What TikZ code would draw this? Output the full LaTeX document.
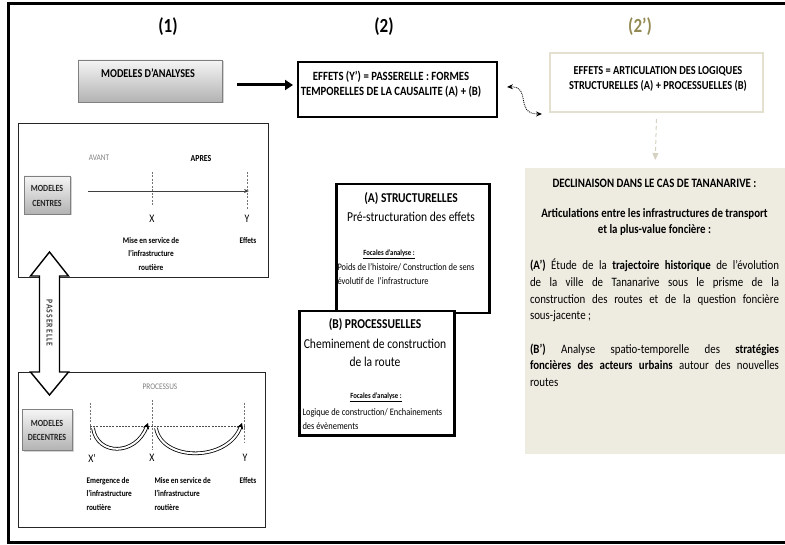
\documentclass[tikz,border=0pt]{standalone}
\usepackage{fontspec}
\setmainfont{Carlito}[FakeStretch=0.85]
\usetikzlibrary{arrows.meta,shadows}
\definecolor{olivehd}{HTML}{948A54}
\definecolor{beigefill}{HTML}{EEECE1}
\definecolor{beigeline}{HTML}{E4E0D0}
\definecolor{beigearrow}{HTML}{D6D2C2}
\tikzset{
  graybox/.style={draw=black!50, line width=0.6pt, top color=black!4, bottom color=black!30,
    drop shadow={opacity=0.35, shadow xshift=1.5pt, shadow yshift=-1.5pt}},
  thickbox/.style={draw=black, line width=2.5pt, fill=white},
  thinframe/.style={draw=black!85, line width=0.8pt, fill=white},
  hdr/.style={font=\fontsize{20}{22}\selectfont\bfseries},
  boxtxt/.style={font=\fontsize{12.6}{15.5}\selectfont\bfseries, align=center},
  small/.style={font=\fontsize{8.6}{13.5}\selectfont\bfseries},
  graysmall/.style={font=\fontsize{8.6}{10}\selectfont, text=black!50},
  xy/.style={font=\fontsize{11.5}{13}\selectfont},
  vdash/.style={dashed, dash pattern=on 2pt off 1.5pt, draw=black!55, line width=0.6pt},
  hollowarc/.style={draw=black, double=white, double distance=2pt, line width=0.8pt,
    -{Stealth[length=6pt,width=6.5pt]}},
  titleA/.style={font=\fontsize{13.5}{15}\selectfont\bfseries},
  subA/.style={font=\fontsize{13.6}{17.5}\selectfont, align=center},
  focal/.style={font=\fontsize{7.9}{9}\selectfont\bfseries},
  detail/.style={font=\fontsize{9.9}{14}\selectfont, align=left},
}
\begin{document}
\begin{tikzpicture}[x=1pt,y=-1pt]
\useasboundingbox (0,0) rectangle (785,545);
% outer frame
\draw[line width=3pt] (8,4) rectangle (800,542);

% headers
\node[hdr] (h1) at (168,27) {(1)};
\node[hdr] (h2) at (384,27) {(2)};
\node[hdr, text=olivehd] (h2p) at (640,27) {(2’)};

% models d'analyses
\node[graybox, minimum width=144pt, minimum height=42pt] (ma) at (150,81) {};
\node[font=\fontsize{12}{14}\selectfont\bfseries] (mat) at (148,73) {MODELES D’ANALYSES};
\coordinate (a1) at (237,85);
\coordinate (a2) at (293,85);
\draw[line width=3pt, -{Triangle[length=8pt,width=10pt]}] (a1) -- (a2);

% box 2
\node[thickbox, minimum width=199pt, minimum height=55pt] (b2) at (397.5,89.5) {};
\node[boxtxt] (b2t) at (391,84.5) {EFFETS (Y’) = PASSERELLE : FORMES\\TEMPORELLES DE LA CAUSALITE (A) + (B)};

% box 2'
\node[draw=beigeline, line width=2pt, minimum width=213pt, minimum height=59pt] (b2p) at (656.5,82.5) {};
\node[boxtxt, font=\fontsize{12.2}{15.5}\selectfont\bfseries] (b2pt) at (658,79) {EFFETS = ARTICULATION DES LOGIQUES\\STRUCTURELLES (A) + PROCESSUELLES (B)};

% curly double arrow
\coordinate (c1) at (507,87);
\coordinate (c2) at (542,114);
\draw[densely dotted, line width=0.9pt, {Stealth[length=6pt,width=5pt]}-{Stealth[length=6pt,width=5pt]}]
  (c1) .. controls (532,86) and (514,114) .. (c2);

% beige box
\node[fill=beigefill, minimum width=260pt, minimum height=286pt, anchor=north west, inner sep=0pt] (decl) at (525,168) {};
\draw[beigearrow, line width=1pt, dash pattern=on 4pt off 3pt, -{Triangle[length=7pt,width=6pt]}]
  ([yshift=-6pt]b2p.south) -- ([yshift=8pt]decl.north);
\node[anchor=north, text width=249pt, inner sep=0pt, align=justify, font=\fontsize{12.8}{16.7}\selectfont] (declt) at (654.5,179) {%
  \hyphenpenalty=10000
  {\centering\bfseries DECLINAISON DANS LE CAS DE TANANARIVE :\par\vspace{13pt}
  Articulations entre les infrastructures de transport\\et la plus-value foncière :\par}
  \vspace{19pt}
  \textbf{(A’)} Étude de la \textbf{trajectoire historique} de l’évolution\linebreak
  de la ville de Tananarive sous le prisme de la\linebreak
  construction des routes et de la question foncière\linebreak
  sous-jacente ;\par\vspace{16.7pt}
  \textbf{(B’)} Analyse spatio-temporelle des \textbf{stratégies}\linebreak
  \textbf{foncières des acteurs urbains} autour des nouvelles\linebreak
  routes\par};

% ---------- left top box: modeles centres
\node[thinframe, minimum width=250pt, minimum height=154pt, anchor=north west, inner sep=0pt] (lc) at (18,123) {};
\node[graybox, minimum width=46pt, minimum height=38pt] (mc) at (47,195) {};
\node[font=\fontsize{9.4}{15}\selectfont\bfseries, align=center, text=black!85] (mct) at (47,195.5) {MODELES\\CENTRES};
\node[graysmall] (avant) at (99,158) {AVANT};
\node[font=\fontsize{9.2}{10}\selectfont\bfseries] (apres) at (201,159) {APRES};
\coordinate (t0) at (88,191);
\coordinate (t1) at (249,191);
\draw[line width=0.9pt, draw=black!75, -{Stealth[length=5pt,width=4pt]}] (t0) -- (t1);
\coordinate (vx0) at (152,172); \coordinate (vx1) at (152,205);
\coordinate (vy0) at (247,172); \coordinate (vy1) at (247,210);
\draw[vdash] (vx0) -- (vx1);
\draw[vdash] (vy0) -- (vy1);
\node[xy] (xc) at (152,219) {X};
\node[xy] (yc) at (247,219) {Y};
\node[small, align=center] (msc) at (151,254) {Mise en service de\\l’infrastructure\\routière};
\node[small] (efc) at (248,241) {Effets};

% ---------- left bottom box: modeles decentres
\node[thinframe, minimum width=247pt, minimum height=155pt, anchor=north west, inner sep=0pt] (ld) at (18,372) {};
\node[graybox, minimum width=50pt, minimum height=41pt] (md) at (47,430) {};
\node[font=\fontsize{9.4}{14}\selectfont\bfseries, align=center, text=black!85] (mdt) at (47,430.5) {MODELES\\DECENTRES};
\node[graysmall] (proc) at (160,387) {PROCESSUS};
\coordinate (hx0) at (90,426); \coordinate (hx1) at (244,426);
\draw[dashed, dash pattern=on 2pt off 1.2pt, draw=black!70, line width=0.6pt] (hx0) -- (hx1);
\coordinate (p0) at (90,403); \coordinate (p1) at (90,440);
\coordinate (q0) at (152,400); \coordinate (q1) at (152,450);
\coordinate (r0) at (244,403); \coordinate (r1) at (244,442);
\draw[vdash] (p0) -- (p1);
\draw[vdash] (q0) -- (q1);
\draw[vdash] (r0) -- (r1);
\coordinate (arc1s) at (93,428); \coordinate (arc1e) at (148,423);
\coordinate (arc2s) at (156,428); \coordinate (arc2e) at (242,423);
\draw[hollowarc] (arc1s) .. controls (97,456) and (136,456) .. (arc1e);
\draw[hollowarc] (arc2s) .. controls (162,462) and (228,462) .. (arc2e);
\node[xy] (xp) at (92,458) {X’};
\node[xy] (xd) at (152,458) {X};
\node[xy] (yd) at (245,458) {Y};
\node[small, align=left, anchor=west] (emg) at (83,494) {Emergence de\\l’infrastructure\\routière};
\node[small, align=left, anchor=west] (msd) at (151,494) {Mise en service de\\l’infrastructure\\routière};
\node[small] (efd) at (248,481) {Effets};

% ---------- passerelle double arrow
\coordinate (pt) at (49.5,252);
\coordinate (pb) at (49.5,395);
\draw[line width=1.4pt, fill=white, line join=miter]
  (pt) -- (68.5,276) -- (59.5,276) -- (59.5,372) -- (68.5,372) -- (pb)
  -- (30.5,372) -- (39.5,372) -- (39.5,276) -- (30.5,276) -- cycle;
\node[rotate=-90, font=\fontsize{9}{10}\selectfont\bfseries\addfontfeature{LetterSpace=12}, text=black!75] (pass) at (49.5,323) {PASSERELLE};

% ---------- box A
\node[thickbox, minimum width=153pt, minimum height=129pt, anchor=north west, inner sep=0pt] (sa) at (335,183) {};
\node[titleA] (sat) at (411,199) {(A) STRUCTURELLES};
\node[subA] (sas) at (411,217) {Pré-structuration des effets};
\node[focal] (saf) at (389,254) {\underline{Focales d’analyse :}};
\node[detail, anchor=west] (sad) at (334,274) {Poids de l’histoire/ Construction de sens\\évolutif de \ l’infrastructure};

% ---------- box B
\node[thickbox, minimum width=155pt, minimum height=124pt, anchor=north west, inner sep=0pt] (sb) at (298,310) {};
\node[titleA] (sbt) at (375,325) {(B) PROCESSUELLES};
\node[subA] (sbs) at (375,353) {Cheminement de construction\\de la route};
\node[focal] (sbf) at (376,397) {\underline{Focales d’analyse :}};
\node[detail, anchor=west] (sbd) at (299,419) {Logique de construction/ Enchainements\\des évènements};
\end{tikzpicture}
\end{document}
